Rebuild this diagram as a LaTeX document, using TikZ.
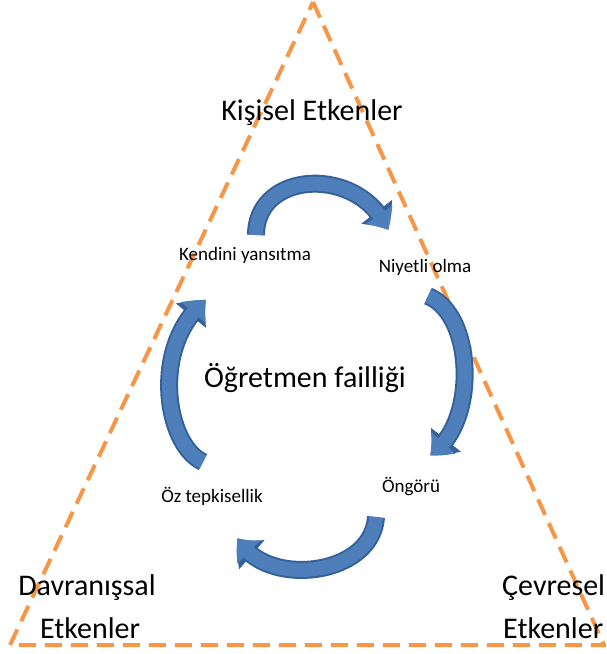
\documentclass[tikz,border=0pt]{standalone}
\usepackage{fontspec}
\setmainfont{Carlito}
\usetikzlibrary{
	arrows.meta,	% arrow tips
	bending,		% bent arrow tips
}
\definecolor{dashorange}{HTML}{F79646}
\definecolor{cycleblue}{HTML}{4F7FBB}
\definecolor{cycleedge}{HTML}{34619A}

\begin{document}
\begin{tikzpicture}[x=1pt, y=-1pt,
	bigtext/.style={font=\fontsize{30}{36}\selectfont, anchor=base, inner sep=0pt},
	smalltext/.style={font=\fontsize{19}{23}\selectfont, anchor=base, inner sep=0pt},
	arrowedge/.style={cycleedge, line width=18pt, -{Triangle[length=22pt, width=37pt, bend]}},
	cyclearrow/.style={cycleblue, line width=14pt, -{Triangle[length=18pt, width=31pt, bend]}},
	]
	\useasboundingbox (0,0) rectangle (606,654);
	\clip (0,0) rectangle (606,654);
	% dashed triangle
	\draw[dashorange, line width=4pt, dash pattern=on 17pt off 9pt]
		(313,2) coordinate (apex) -- (604,645) coordinate (rightcorner)
		-- (10,645) coordinate (leftcorner) -- cycle;
	% labels
	\node[bigtext] (personal) at (312,120) {Kişisel Etkenler};
	\node[bigtext] (agency) at (305,387) {Öğretmen failliği};
	\node[smalltext] (reflect) at (245,260) {Kendini yansıtma};
	\node[smalltext] (intent) at (425,272) {Niyetli olma};
	\node[smalltext] (forethought) at (411,492) {Öngörü};
	\node[smalltext] (reactive) at (212,502) {Öz tepkisellik};
	\node[bigtext] (behav1) at (87,595) {Davranışsal};
	\node[bigtext] (behav2) at (90,638) {Etkenler};
	\node[bigtext, anchor=base west] (env1) at (502,595) {Çevresel};
	\node[bigtext, anchor=base west] (env2) at (503,638) {Etkenler};
	% cycle arrows, edge first then body
	\foreach \layer in {arrowedge, cyclearrow} {
		\draw[\layer] (256,235) .. controls (256,170) and (360,165) .. (388,230);
		\draw[\layer] (428,296) .. controls (475,315) and (478,425) .. (430,455);
		\draw[\layer] (376,517) .. controls (372,578) and (262,588) .. (238,538);
		\draw[\layer] (203,462) .. controls (165,445) and (150,345) .. (206,300);
	}
\end{tikzpicture}
\end{document}
